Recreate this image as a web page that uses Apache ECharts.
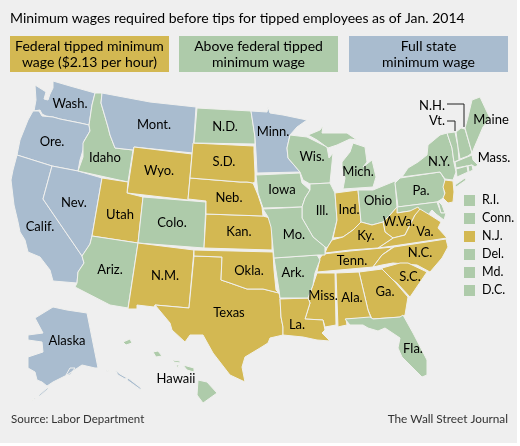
<!DOCTYPE html>
<html>
<head>
    <meta charset="utf-8">
    <title>Minimum wages for tipped employees</title>
    <script src="https://cdn.jsdelivr.net/npm/echarts@6/dist/echarts.min.js"></script>
    <style>html,body{margin:0;padding:0;background:#fff}</style>
</head>
<body>
    <div id="main" style="width:520px;height:446px;"></div>
    <script type="text/javascript">
        // the three wage groups
        var federalTipped = ['Wyo.', 'Utah', 'S.D.', 'Neb.', 'Kan.', 'N.M.', 'Okla.', 'Texas', 'La.', 'Miss.', 'Ala.', 'Ga.', 'S.C.', 'N.C.', 'Va.', 'W.Va.', 'Ky.', 'Tenn.', 'Ind.', 'N.J.'];
        var aboveFederal = ['Idaho', 'Colo.', 'Ariz.', 'N.D.', 'Iowa', 'Mo.', 'Ark.', 'Wis.', 'Ill.', 'Mich.', 'Ohio', 'Pa.', 'N.Y.', 'Vt.', 'N.H.', 'Maine', 'Mass.', 'R.I.', 'Conn.', 'Del.', 'Md.', 'D.C.', 'Fla.', 'Hawaii'];
        var fullState = ['Wash.', 'Ore.', 'Calif.', 'Nev.', 'Mont.', 'Minn.', 'Alaska'];
        // small states named only in the side list
        var sideList = ['R.I.', 'Conn.', 'N.J.', 'Del.', 'Md.', 'D.C.'];
        var groupNames = [['Federal tipped minimum', 'wage ($2.13 per hour)'], ['Above federal tipped', 'minimum wage'], ['Full state', 'minimum wage']];
        var groupColors = ['#d3b852', '#aecbaa', '#a9bccf'];

        // state outlines, traced in picture pixels
        var shapes = {
            'Wash.': [[[35,85],[43,90],[46,92],[44,99],[48,100],[50,94],[53,88],[53,81],[70,86],[95,93],[92,105],[89,125],[80,123],[70,121],[60,119],[53,117],[46,116],[42,114],[40,110],[34,111],[36,100]]],
            'Ore.': [[[33,111],[39,111],[42,116],[53,117],[60,119],[70,121],[80,123],[89,125],[90,131],[84,141],[83,150],[80,160],[78,171],[52,166],[17,155],[20,140],[28,120]]],
            'Calif.': [[[17,155],[52,166],[43,199],[82,256],[84,263],[78,272],[77,283],[53,281],[50,270],[40,257],[28,252],[25,240],[20,232],[18,222],[14,205],[11,180],[13,170]]],
            'Nev.': [[[52,166],[78,171],[102,178],[92,236],[90,244],[82,256],[43,199]]],
            'Idaho': [[[95,93],[102,93],[101,103],[108,127],[110,135],[115,148],[133,150],[128,182],[78,171],[83,157],[83,143],[90,131],[89,125],[92,105]]],
            'Mont.': [[[102,93],[150,102],[196,107],[193,153],[134,147],[133,150],[115,148],[110,135],[108,127],[101,103]]],
            'Wyo.': [[[134,147],[192,154],[188,200],[127,193]]],
            'Utah': [[[102,178],[128,182],[127,193],[143,197],[138,243],[92,236]]],
            'Colo.': [[[143,197],[206,202],[204,248],[138,243]]],
            'Ariz.': [[[92,236],[138,243],[128,308],[110,305],[75,287],[77,283],[78,272],[84,263],[82,256],[90,244]]],
            'N.M.': [[[138,243],[194,250],[189,308],[155,305],[154,307],[137,305],[137,309],[128,309]]],
            'Texas': [[[194,256],[222,257],[221,280],[230,283],[247,289],[263,289],[279,293],[280,298],[281,317],[283,327],[283,335],[270,338],[268,343],[260,348],[245,357],[242,367],[245,382],[230,375],[213,353],[203,335],[190,335],[185,342],[172,330],[170,323],[155,305],[189,308]]],
            'Okla.': [[[194,250],[273,252],[274,270],[276,290],[279,293],[263,289],[247,289],[230,283],[221,280],[222,257],[194,256]]],
            'Kan.': [[[206,214],[263,216],[270,218],[272,227],[272,250],[204,248]]],
            'Neb.': [[[190,178],[240,182],[247,182],[253,183],[258,195],[262,207],[263,216],[206,214],[206,201],[188,199]]],
            'S.D.': [[[193,143],[254,146],[254,152],[255,173],[255,182],[253,183],[247,182],[240,182],[190,178]]],
            'N.D.': [[[197,108],[251,111],[255,137],[255,144],[194,143]]],
            'Minn.': [[[251,111],[267,112],[268,107],[270,113],[283,115],[307,120],[297,127],[290,135],[287,148],[288,158],[300,172],[257,173],[256,153],[255,137]]],
            'Wis.': [[[290,135],[307,137],[327,147],[329,158],[333,153],[330,183],[310,184],[303,180],[300,172],[288,158],[287,148]]],
            'Mich.': [[[308,135],[320,130],[323,126],[322,133],[332,133],[347,133],[357,140],[350,139],[337,145],[328,148],[317,140]], [[342,162],[350,152],[353,143],[365,147],[367,162],[363,167],[372,160],[376,177],[373,187],[343,189],[345,178],[342,168]]],
            'Iowa': [[[256,175],[300,173],[302,183],[310,190],[305,198],[302,207],[263,208],[258,193]]],
            'Ill.': [[[310,184],[330,183],[335,193],[337,220],[332,240],[327,248],[325,247],[313,237],[302,218],[302,207],[305,198],[310,190]]],
            'Ind.': [[[335,193],[358,190],[361,222],[353,230],[343,237],[333,238],[337,220]]],
            'Ohio': [[[358,190],[373,190],[395,181],[397,207],[390,215],[383,222],[372,225],[361,222]]],
            'Pa.': [[[395,183],[400,178],[440,172],[445,180],[444,190],[445,197],[437,202],[398,207]]],
            'N.Y.': [[[402,177],[408,168],[418,162],[427,155],[428,145],[440,135],[447,133],[452,148],[454,163],[456,172],[453,180],[445,179],[440,172]], [[455,185],[465,178],[466,180],[456,187]]],
            'Vt.': [[[447,133],[455,132],[458,147],[459,160],[454,162],[452,148]]],
            'N.H.': [[[456,132],[461,128],[465,129],[472,153],[468,156],[460,159],[458,147]]],
            'Maine': [[[465,128],[468,117],[472,100],[480,97],[487,112],[490,118],[483,127],[474,148],[472,153]]],
            'Mass.': [[[455,162],[472,155],[473,160],[478,165],[475,167],[472,165],[456,168]]],
            'Conn.': [[[456,169],[467,166],[468,172],[457,177]]],
            'R.I.': [[[468,166],[472,165],[473,170],[469,172]]],
            'N.J.': [[[445,180],[453,181],[454,192],[453,202],[448,203],[443,198],[445,193],[443,187]]],
            'Del.': [[[438,201],[442,205],[445,213],[441,213]]],
            'Md.': [[[397,207],[437,202],[441,213],[446,213],[444,220],[436,214],[432,210],[428,215],[434,225],[425,220],[418,212],[410,211],[403,212],[397,213]]],
            'D.C.': [[[425,217],[427,218],[426,220]]],
            'W.Va.': [[[397,207],[397,213],[410,211],[418,207],[420,210],[415,215],[410,225],[405,235],[393,238],[385,232],[383,222],[390,215]]],
            'Va.': [[[420,209],[430,215],[441,222],[438,228],[447,238],[393,246],[378,248],[393,238],[405,235],[410,225],[415,215]]],
            'Ky.': [[[361,222],[372,225],[383,222],[385,232],[393,238],[378,248],[350,250],[325,253],[327,248],[332,240],[343,237],[353,230]]],
            'Tenn.': [[[323,254],[350,251],[393,247],[382,255],[373,267],[317,272],[320,258]]],
            'N.C.': [[[394,247],[446,239],[448,247],[442,258],[430,272],[417,265],[393,263],[382,265],[373,267],[382,255]]],
            'S.C.': [[[382,268],[400,263],[408,263],[427,272],[410,297],[397,283],[383,272]]],
            'Ga.': [[[359,272],[382,269],[395,282],[408,297],[405,315],[402,317],[372,319],[368,310]]],
            'Ala.': [[[336,273],[359,272],[368,310],[371,318],[346,319],[347,325],[342,326],[338,327]]],
            'Miss.': [[[317,273],[335,273],[336,325],[325,327],[323,320],[305,319],[310,303],[308,298],[313,285]]],
            'La.': [[[280,299],[308,298],[310,303],[305,319],[323,320],[325,330],[322,333],[330,341],[317,340],[303,337],[283,335],[283,327],[281,317]]],
            'Ark.': [[[274,258],[317,255],[320,260],[315,273],[313,285],[308,298],[280,298],[279,290]]],
            'Mo.': [[[263,209],[302,207],[302,218],[313,237],[325,247],[325,255],[318,255],[317,255],[274,258],[271,227],[268,217]]],
            'Fla.': [[[345,319],[370,317],[373,319],[400,317],[403,315],[413,333],[427,360],[427,375],[422,377],[413,368],[402,357],[398,348],[400,338],[385,328],[378,331],[368,328],[363,325],[350,325]]],
            'Alaska': [[[35,318],[53,307],[67,310],[87,313],[98,368],[95,368],[82,365],[67,375],[53,382],[47,386],[42,382],[37,380],[35,372],[28,368],[28,357],[43,352],[42,342],[28,340],[28,335],[43,333]], [[70,368],[75,368],[70,375],[66,375]], [[47,388],[49,388],[40,396],[38,396]], [[34,398],[36,398],[31,401],[30,401]], [[106,370],[112,372],[112,373],[106,371]], [[115,370],[120,374],[127,378],[125,379],[118,375]], [[128,378],[141,388],[141,390],[127,380]]],
            'Hawaii': [[[198,380],[207,382],[217,393],[203,403],[197,395]], [[183,365],[194,368],[194,372],[187,370]], [[153,352],[158,351],[162,356],[156,357]], [[123,342],[130,339],[132,343],[126,345]], [[172,360],[180,361],[180,363],[174,362]], [[176,365],[179,365],[178,368]]]
        };

        // where each state's name sits
        var labelAt = {
            'Wash.': [70,104], 'Ore.': [52,142], 'Calif.': [40,227], 'Nev.': [74,203], 'Idaho': [105,158], 'Mont.': [154,125],
            'Wyo.': [159,171], 'Utah': [120,215], 'Colo.': [172,223], 'Ariz.': [110,270], 'N.M.': [165,276], 'N.D.': [225,127],
            'S.D.': [224,162], 'Neb.': [229,198], 'Kan.': [239,232], 'Okla.': [249,271], 'Texas': [229,313], 'Minn.': [273,132],
            'Iowa': [282,190], 'Mo.': [294,235], 'Ark.': [293,273], 'La.': [297,325], 'Miss.': [323,296], 'Ala.': [352,298],
            'Ga.': [385,292], 'Tenn.': [352,261], 'Ky.': [366,236], 'Ill.': [322,211], 'Ind.': [349,210], 'Ohio': [378,201],
            'Wis.': [312,157], 'Mich.': [358,172], 'N.Y.': [439,162], 'Pa.': [421,191], 'W.Va.': [399,222], 'Va.': [425,232],
            'N.C.': [420,253], 'S.C.': [410,277], 'Fla.': [413,349], 'Alaska': [67,341], 'Hawaii': [176,379], 'Maine': [491,120],
            'Mass.': [494,158], 'N.H.': [432,106], 'Vt.': [437,121]
        };

        var MAP_H = 446;
        function toGeo(p) { return [p[0], MAP_H - p[1]]; }

        var features = Object.keys(shapes).map(function (name) {
            var at = labelAt[name] || shapes[name][0][0];
            return {
                type: 'Feature',
                properties: { name: name, cp: toGeo(at) },
                geometry: {
                    type: 'MultiPolygon',
                    coordinates: shapes[name].map(function (ring) {
                        var r = ring.map(toGeo);
                        r.push(r[0]);
                        return [r];
                    })
                }
            };
        });
        echarts.registerMap('usa', { type: 'FeatureCollection', features: features });

        var mapData = [];
        [federalTipped, aboveFederal, fullState].forEach(function (group, g) {
            group.forEach(function (name) {
                mapData.push({
                    name: name,
                    value: g,
                    itemStyle: { areaColor: groupColors[g] },
                    label: { show: !!labelAt[name] }
                });
            });
        });

        var font = 'Lato';
        var graphics = [
            { type: 'rect', z: -1, shape: { x: 0, y: 0, width: 517, height: 443 }, style: { fill: '#efefef' } },
            // leader lines for N.H. and Vt.
            { type: 'polyline', shape: { points: [[447,104],[464,104],[464,127]] }, style: { stroke: '#222', lineWidth: 1, fill: null } },
            { type: 'polyline', shape: { points: [[447,121],[455,121],[455,131]] }, style: { stroke: '#222', lineWidth: 1, fill: null } }
        ];

        // the three key boxes
        var boxX = [10, 179, 349];
        groupNames.forEach(function (lines, i) {
            graphics.push({ type: 'rect', shape: { x: boxX[i], y: 36, width: 159, height: 36 }, style: { fill: groupColors[i] } });
            lines.forEach(function (line, k) {
                graphics.push({
                    type: 'text', x: boxX[i] + 79.5, y: 46 + k * 16,
                    style: { text: line, font: '14px ' + font, fill: '#000', textAlign: 'center', textVerticalAlign: 'middle' }
                });
            });
        });

        // side list of small states
        sideList.forEach(function (name, i) {
            var g = federalTipped.indexOf(name) >= 0 ? 0 : 1;
            var y = 200 + i * 18;
            graphics.push({ type: 'rect', shape: { x: 464, y: y - 5, width: 11, height: 11 }, style: { fill: groupColors[g] } });
            graphics.push({
                type: 'text', x: 482, y: y,
                style: { text: name, font: '12.5px ' + font, fill: '#000', textAlign: 'left', textVerticalAlign: 'middle' }
            });
        });

        graphics.push({ type: 'text', x: 11, y: 419, style: { text: 'Source: Labor Department', font: '11.5px ' + font, fill: '#333', textAlign: 'left', textVerticalAlign: 'middle' } });
        graphics.push({ type: 'text', x: 508, y: 419, style: { text: 'The Wall Street Journal', font: '11.8px ' + font, fill: '#333', textAlign: 'right', textVerticalAlign: 'middle' } });

        var myChart = echarts.init(document.getElementById('main'), null, { renderer: 'canvas' });

        var option = {
            animation: false,
            backgroundColor: '#fff',
            title: {
                text: 'Minimum wages required before tips for tipped employees as of Jan. 2014',
                left: 10, top: 11, padding: 0,
                textStyle: { fontFamily: font, fontSize: 14, fontWeight: 'normal', color: '#000' }
            },
            graphic: graphics,
            series: [{
                type: 'map',
                map: 'usa',
                silent: true,
                roam: false,
                aspectScale: 1,
                boundingCoords: [[0, MAP_H], [520, 0]],
                left: 0, top: 0, width: 520, height: MAP_H,
                label: { show: true, fontFamily: font, fontSize: 13, color: '#000' },
                itemStyle: { borderColor: '#f0f0ee', borderWidth: 1 },
                emphasis: { disabled: true },
                data: mapData
            }]
        };
        myChart.setOption(option);
    </script>
</body>
</html>
